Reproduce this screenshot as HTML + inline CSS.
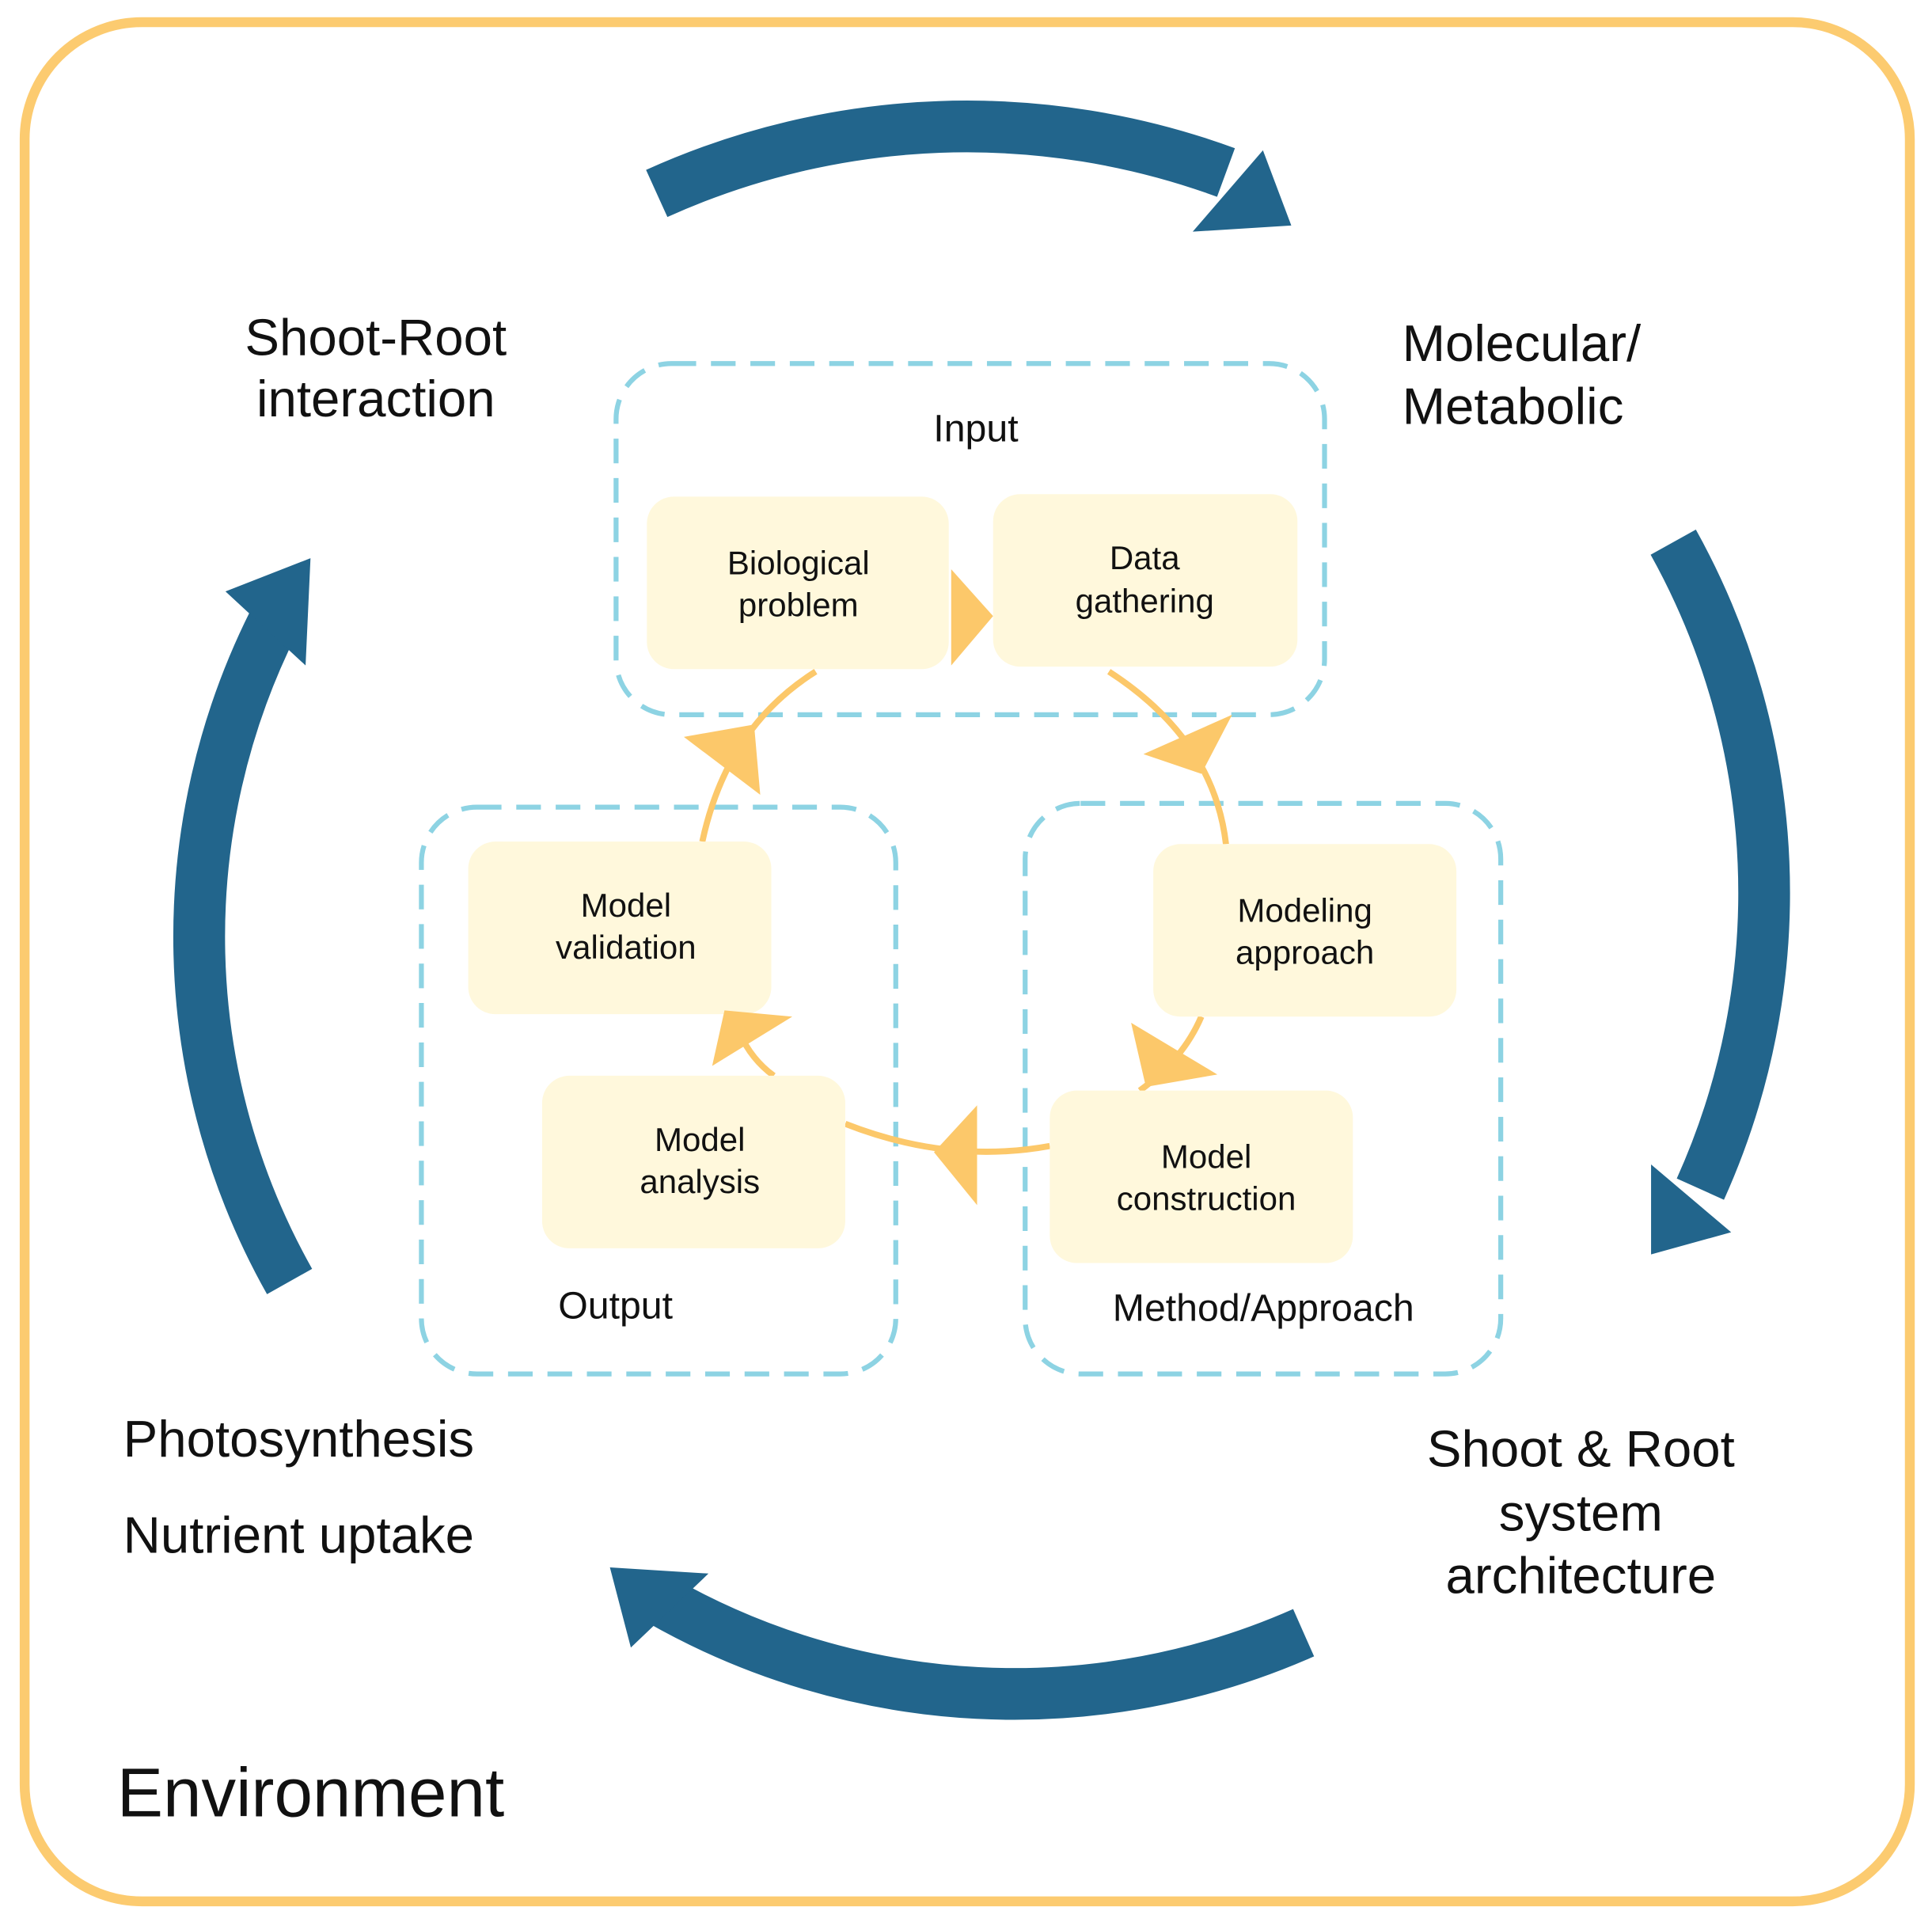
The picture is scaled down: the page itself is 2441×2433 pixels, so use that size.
<!DOCTYPE html>
<html><head><meta charset="utf-8"><style>
html,body{margin:0;padding:0;background:#fff;}
svg{display:block;}
text{font-family:"Liberation Sans",Arial,sans-serif;fill:#111;}
</style></head><body>
<svg width="2441" height="2433" viewBox="0 0 1568 1563" preserveAspectRatio="none">
<rect x="20" y="18" width="1530" height="1525" rx="95" fill="#fff" stroke="#FCCB70" stroke-width="8"/>
<g fill="none" stroke="#22658C" stroke-width="42">
<path d="M533,157 A610,610 0 0 1 995,140"/>
<path d="M1358,440 A585,585 0 0 1 1380,965"/>
<path d="M1058,1325 A580,580 0 0 1 535,1298"/>
<path d="M235,1040 A570,570 0 0 1 222,505"/>
</g>
<g fill="#22658C">
<polygon points="968,188 1048,183 1025,122"/>
<polygon points="1340,1018 1405,1000 1340,945"/>
<polygon points="495,1272 575,1277 512,1337"/>
<polygon points="183,480 252,453 248,540"/>
</g>
<g fill="none" stroke="#8DD3E3" stroke-width="4" stroke-dasharray="20 12">
<rect x="500" y="295" width="575" height="285" rx="45"/>
<rect x="342" y="655" width="385" height="460" rx="45"/>
<rect x="832" y="652" width="386" height="463" rx="45"/>
</g>
<g fill="none" stroke="#FCC86A" stroke-width="5">
<path d="M900,545 Q985,600 995,685"/>
<path d="M975,825 Q960,860 925,885"/>
<path d="M852,930 Q770,945 686,912"/>
<path d="M628,873 Q610,860 600,838"/>
<path d="M570,683 Q590,590 662,545"/>
</g>
<g fill="#FFF8DC">
<rect x="525" y="403" width="245" height="140" rx="22"/>
<rect x="806" y="401" width="247" height="140" rx="22"/>
<rect x="380" y="683" width="246" height="140" rx="22"/>
<rect x="936" y="685" width="246" height="140" rx="22"/>
<rect x="440" y="873" width="246" height="140" rx="22"/>
<rect x="852" y="885" width="246" height="140" rx="22"/>
</g>
<g fill="#FCC86A">
<polygon points="772,462 806,500 772,540"/>
<polygon points="928,612 1000,580 975,628"/>
<polygon points="918,830 988,872 930,882"/>
<polygon points="758,935 793,897 793,978"/>
<polygon points="578,865 643,825 588,820"/>
<polygon points="555,598 612,588 617,645"/>
</g>
<g font-size="27" text-anchor="middle">
<text x="648" y="466">Biological</text><text x="648" y="500">problem</text>
<text x="929" y="462">Data</text><text x="929" y="497">gathering</text>
<text x="508" y="744">Model</text><text x="508" y="778">validation</text>
<text x="1059" y="748">Modeling</text><text x="1059" y="782">approach</text>
<text x="568" y="934">Model</text><text x="568" y="968">analysis</text>
<text x="979" y="948">Model</text><text x="979" y="982">construction</text>
</g>
<g font-size="31">
<text x="792" y="358" text-anchor="middle">Input</text>
<text x="453" y="1070">Output</text>
<text x="903" y="1072">Method/Approach</text>
</g>
<g font-size="42">
<text x="305" y="288" text-anchor="middle">Shoot-Root</text>
<text x="305" y="338" text-anchor="middle">interaction</text>
<text x="1138" y="293">Molecular/</text>
<text x="1138" y="344">Metabolic</text>
<text x="100" y="1182">Photosynthesis</text>
<text x="100" y="1260">Nutrient uptake</text>
<text x="1283" y="1190" text-anchor="middle">Shoot &amp; Root</text>
<text x="1283" y="1242" text-anchor="middle">system</text>
<text x="1283" y="1293" text-anchor="middle">architecture</text>
</g>
<text x="95" y="1474" font-size="56">Environment</text>
</svg>
</body></html>
